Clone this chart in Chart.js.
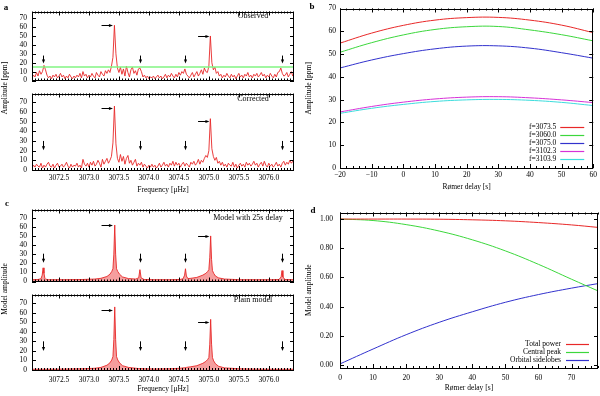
<!DOCTYPE html>
<html>
<head>
<meta charset="utf-8">
<script src="https://cdn.jsdelivr.net/npm/chart.js@4.4.1/dist/chart.umd.min.js"></script>
<style>
  body { margin: 0; background: #fff; }
  #fig { position: relative; width: 600px; height: 396px; overflow: hidden; }
  #fig canvas { position: absolute; }
  .t { position: absolute; font-family: 'Liberation Serif', 'Times New Roman', serif; color: #000;
       white-space: nowrap; transform: translate(-50%, -50%); font-size: 8px; line-height: 1; }
  .rot { transform: translate(-50%, -50%) rotate(-90deg); font-size: 7.5px; }
  .letter { font-weight: bold; font-size: 9px; }
</style>
</head>
<body>
<div id="fig">
  <canvas id="aTop"></canvas>
  <canvas id="aBot"></canvas>
  <canvas id="panelB"></canvas>
  <canvas id="cTop"></canvas>
  <canvas id="cBot"></canvas>
  <canvas id="panelD"></canvas>

  <div class="t letter" style="left:6px;top:7px">a</div>
  <div class="t letter" style="left:312px;top:6px">b</div>
  <div class="t letter" style="left:7px;top:203px">c</div>
  <div class="t letter" style="left:313px;top:210px">d</div>

  <div class="t rot" style="left:5px;top:88px">Amplitude [ppm]</div>
  <div class="t rot" style="left:5px;top:289px">Model amplitude</div>

  <div class="t" style="left:253px;top:16px">Observed</div>
  <div class="t" style="left:253px;top:99px">Corrected</div>
  <div class="t" style="left:248px;top:218px">Model with 25s delay</div>
  <div class="t" style="left:253px;top:300px">Plain model</div>
</div>

<script>
/* ---------- data ---------- */

// panel a: amplitude spectra on a regular frequency grid
const specStart = 3072.05;
const specStep = 0.025;
const observedAmp = [
  3, 6, 4, 9, 5, 11, 7, 10, 17, 12,
  6, 3, 5, 2, 6, 4, 7, 3, 5, 8,
  4, 6, 2, 5, 3, 7, 4, 2, 5, 3,
  6, 4, 8, 3, 10, 5, 7, 3, 6, 4,
  8, 5, 3, 9, 6, 4, 10, 7, 5, 11,
  8, 12, 9, 16, 26, 62, 30, 14, 9, 15,
  7, 13, 5, 16, 9, 4, 12, 15, 8, 11,
  6, 13, 14, 10, 4, 6, 3, 5, 2, 4,
  3, 5, 2, 4, 6, 3, 5, 2, 4, 7,
  3, 6, 4, 8, 5, 3, 7, 4, 9, 6,
  10, 8, 13, 7, 5, 3, 6, 9, 4, 7,
  10, 5, 8, 12, 7, 14, 10, 9, 16, 50,
  20, 12, 15, 8, 10, 5, 7, 3, 6, 4,
  8, 5, 3, 7, 4, 6, 2, 5, 8, 4,
  6, 3, 7, 5, 9, 4, 6, 3, 7, 5,
  8, 4, 6, 9, 5, 7, 3, 6, 4, 8,
  5, 3, 7, 4, 9, 10, 14, 8, 5, 6,
  9, 4, 7, 10, 5, 8
];
const correctedAmp = [
  2, 5, 3, 6, 4, 3, 7, 2, 5, 3,
  6, 8, 4, 3, 6, 2, 5, 7, 3, 4,
  6, 3, 5, 8, 4, 2, 6, 3, 5, 4,
  7, 3, 5, 2, 11, 6, 4, 7, 3, 8,
  5, 9, 4, 6, 10, 7, 3, 11, 6, 9,
  12, 7, 10, 14, 28, 66, 27, 12, 8, 16,
  9, 14, 6, 12, 15, 7, 10, 5, 8, 11,
  4, 7, 5, 8, 3, 6, 4, 2, 5, 3,
  6, 3, 5, 2, 4, 7, 3, 5, 8, 4,
  6, 3, 7, 5, 9, 4, 8, 5, 7, 3,
  6, 8, 4, 7, 5, 3, 8, 6, 9, 5,
  7, 11, 6, 10, 8, 12, 15, 13, 20, 53,
  22, 14, 10, 13, 7, 9, 5, 8, 4, 6,
  3, 7, 5, 4, 8, 3, 6, 2, 5, 7,
  4, 6, 3, 8, 5, 7, 4, 6, 9, 5,
  7, 3, 6, 8, 4, 9, 5, 3, 7, 4,
  6, 3, 5, 8, 4, 6, 3, 7, 9, 5,
  8, 6, 10, 7, 9, 6
];
const thresholdLevel = 15.2;
const sidelobeFreq = [3072.24, 3073.85, 3074.61, 3076.22];

// panel b: amplitude against Rømer delay
const delayB = [-20, -10, 0, 10, 20, 30, 40, 50, 60];
const modeLabels = ["f=3073.5", "f=3060.0", "f=3075.0", "f=3102.3", "f=3103.9"];
const amp3073_5 = [54.8, 59.2, 62.6, 64.9, 66.0, 66.1, 64.9, 62.7, 59.4];
const amp3060_0 = [50.8, 55.0, 58.4, 60.8, 62.0, 62.1, 60.6, 58.5, 55.8];
const amp3075_0 = [43.9, 47.4, 50.2, 52.3, 53.5, 53.6, 52.6, 50.6, 48.2];
const amp3102_3 = [24.6, 27.0, 28.9, 30.3, 31.1, 31.3, 30.8, 29.9, 28.7];
const amp3103_9 = [24.0, 26.2, 27.9, 29.2, 29.9, 30.1, 29.7, 28.8, 27.4];

// panel c: model spectra
const modelFreq = [
  3072.05, 3072.15, 3072.20, 3072.22, 3072.235, 3072.25, 3072.265, 3072.28, 3072.33, 3072.6,
  3072.9, 3073.1, 3073.2, 3073.3, 3073.35, 3073.38, 3073.40, 3073.415, 3073.43, 3073.445,
  3073.46, 3073.48, 3073.51, 3073.56, 3073.66, 3073.78, 3073.83, 3073.85, 3073.87, 3073.92,
  3074.1, 3074.35, 3074.52, 3074.57, 3074.595, 3074.61, 3074.625, 3074.65, 3074.7, 3074.8,
  3074.9, 3074.95, 3074.98, 3075.00, 3075.015, 3075.03, 3075.045, 3075.06, 3075.08, 3075.11,
  3075.16, 3075.26, 3075.5, 3075.8, 3076.05, 3076.17, 3076.205, 3076.22, 3076.235, 3076.27,
  3076.42
];
const modelDelayAmp = [
  2, 2.2, 3, 7, 15, 9, 3.5, 2.5, 2, 2,
  2.2, 2.7, 3.5, 5.5, 8, 11, 14, 30, 62, 30,
  14, 11, 8, 5, 3.2, 2.7, 4, 13, 4, 2.2,
  2, 2, 2.2, 3, 7, 14, 6, 3.2, 3.5, 4.5,
  7, 9, 11, 13, 26, 50, 24, 12, 9, 6,
  4, 2.7, 2, 2, 2, 2.2, 5, 12, 5, 2.2,
  2
];
const modelPlainAmp = [
  0.8, 0.8, 0.8, 0.8, 0.8, 0.8, 0.8, 0.8, 0.8, 1,
  1.3, 1.8, 2.7, 5, 7.5, 10.5, 14, 32, 66, 32,
  14, 10.5, 7.5, 4.5, 2.7, 1.8, 1.5, 1.5, 1.5, 1.3,
  1.1, 1.3, 1.8, 2.2, 2.4, 2.6, 2.7, 3, 3.4, 4.5,
  7, 9, 11, 13, 27, 53, 27, 13, 9.5, 6.5,
  4, 2.2, 1.3, 0.9, 0.8, 0.8, 0.8, 0.8, 0.8, 0.8,
  0.8
];

// panel d: model amplitudes against Rømer delay
const delayD = [0, 10, 20, 30, 40, 50, 60, 70, 78];
const totalPower = [1.000, 1.000, 1.000, 0.999, 0.995, 0.988, 0.976, 0.960, 0.943];
const centralPeak = [1.000, 0.990, 0.962, 0.918, 0.858, 0.782, 0.690, 0.588, 0.508];
const orbitalSidelobes = [0.008, 0.110, 0.208, 0.293, 0.365, 0.430, 0.483, 0.527, 0.558];

/* ---------- styling ---------- */
const FONT = "'Liberation Serif', 'Times New Roman', serif";
const tickFont = { family: FONT, size: 7.5 };
const RED = "rgb(232,40,40)";
const GREEN = "rgb(60,215,60)";
const BLUE = "rgb(50,50,205)";
const MAGENTA = "rgb(215,50,215)";
const CYAN = "rgb(60,220,220)";

/* Frame with inward major/minor ticks on all four sides */
const frameTicks = {
  id: "frameTicks",
  afterDatasetsDraw(chart, args, opts) {
    const { ctx, chartArea: a } = chart;
    const marks = (scale, step, len, horizontal) => {
      if (!step) return;
      const first = Math.ceil(scale.min / step - 1e-6);
      const last = Math.floor(scale.max / step + 1e-6);
      for (let k = first; k <= last; k++) {
        const p = Math.round(scale.getPixelForValue(k * step)) + 0.5;
        if (horizontal) {
          ctx.moveTo(p, a.bottom); ctx.lineTo(p, a.bottom - len);
          ctx.moveTo(p, a.top); ctx.lineTo(p, a.top + len);
        } else {
          ctx.moveTo(a.left, p); ctx.lineTo(a.left + len, p);
          ctx.moveTo(a.right, p); ctx.lineTo(a.right - len, p);
        }
      }
    };
    ctx.save();
    ctx.strokeStyle = "#000";
    ctx.lineWidth = 1;
    ctx.beginPath();
    marks(chart.scales.x, opts.xMajor, 4, true);
    marks(chart.scales.x, opts.xMinor, 2, true);
    marks(chart.scales.y, opts.yMajor, 4, false);
    marks(chart.scales.y, opts.yMinor, 2, false);
    ctx.stroke();
    ctx.strokeRect(Math.round(a.left) + 0.5, Math.round(a.top) + 0.5,
      Math.round(a.right - a.left) - 1, Math.round(a.bottom - a.top) - 1);
    ctx.restore();
  }
};

/* Black arrows marking the peaks (positions in data units) */
const arrowMarks = {
  id: "arrowMarks",
  afterDatasetsDraw(chart, args, opts) {
    if (!opts.down && !opts.right) return;
    const { ctx } = chart;
    const xs = chart.scales.x, ys = chart.scales.y;
    ctx.save();
    ctx.strokeStyle = "#000";
    ctx.fillStyle = "#000";
    ctx.lineWidth = 1;
    const head = (x, y, dx, dy) => {
      ctx.beginPath();
      ctx.moveTo(x, y);
      ctx.lineTo(x - dx * 4 - dy * 1.6, y - dy * 4 - dx * 1.6);
      ctx.lineTo(x - dx * 4 + dy * 1.6, y - dy * 4 + dx * 1.6);
      ctx.closePath();
      ctx.fill();
    };
    if (opts.down) {
      opts.down.xs.forEach(f => {
        const px = Math.round(xs.getPixelForValue(f)) + 0.5;
        const y0 = ys.getPixelForValue(opts.down.from), y1 = ys.getPixelForValue(opts.down.to);
        ctx.beginPath(); ctx.moveTo(px, y0); ctx.lineTo(px, y1 - 3); ctx.stroke();
        head(px, y1, 0, 1);
      });
    }
    (opts.right || []).forEach(r => {
      const py = Math.round(ys.getPixelForValue(r.y)) + 0.5;
      const x0 = xs.getPixelForValue(r.x0), x1 = xs.getPixelForValue(r.x1);
      ctx.beginPath(); ctx.moveTo(x0, py); ctx.lineTo(x1 - 3, py); ctx.stroke();
      head(x1, py, 1, 0);
    });
    ctx.restore();
  }
};

/* Legend in lower right corner: text, then line sample */
const cornerLegend = {
  id: "cornerLegend",
  afterDatasetsDraw(chart, args, opts) {
    if (!opts.show) return;
    const { ctx, chartArea: a } = chart;
    ctx.save();
    ctx.font = "7.5px " + FONT;
    ctx.textAlign = "right";
    ctx.textBaseline = "middle";
    chart.data.datasets.forEach((ds, i) => {
      const y = Math.round(a.bottom - opts.firstFromBottom + i * opts.step) + 0.5;
      ctx.fillStyle = "#000";
      ctx.fillText(ds.label, a.right - opts.textGap, y);
      ctx.strokeStyle = ds.borderColor;
      ctx.lineWidth = 1.2;
      ctx.beginPath();
      ctx.moveTo(a.right - opts.lineStart, y);
      ctx.lineTo(a.right - opts.lineEnd, y);
      ctx.stroke();
    });
    ctx.restore();
  }
};

function placeCanvas(id, left, top, width, height) {
  const c = document.getElementById(id);
  c.width = width; c.height = height;
  c.style.left = left + "px"; c.style.top = top + "px";
  c.style.width = width + "px"; c.style.height = height + "px";
  return c;
}

function makeChart(id, box, o) {
  const canvas = placeCanvas(id, box.left, box.top, box.width, box.height);
  return new Chart(canvas, {
    type: "line",
    data: { datasets: o.datasets },
    options: {
      responsive: false,
      animation: false,
      events: [],
      layout: { autoPadding: false, padding: o.padding },
      elements: { point: { radius: 0 } },
      plugins: {
        legend: { display: false },
        tooltip: { enabled: false },
        frameTicks: o.frame,
        arrowMarks: o.arrows || {},
        cornerLegend: o.legend || { show: false }
      },
      scales: {
        x: {
          type: "linear",
          min: o.xMin, max: o.xMax,
          display: o.showX,
          afterFit: s => { s.height = o.xHeight; },
          grid: { display: false, drawTicks: false },
          border: { display: false },
          ticks: {
            stepSize: o.xStep, includeBounds: false, autoSkip: false, maxRotation: 0,
            padding: o.xPad, font: tickFont, color: "#000", callback: o.xFmt
          },
          title: {
            display: !!o.xTitle, text: o.xTitle, color: "#000",
            font: tickFont, padding: { top: 0, bottom: o.xTitlePad || 0 }
          }
        },
        y: {
          type: "linear",
          min: o.yMin, max: o.yMax,
          afterFit: s => { s.width = o.yWidth; },
          grid: { display: false, drawTicks: false },
          border: { display: false },
          ticks: {
            stepSize: o.yStep, includeBounds: false, autoSkip: false,
            padding: o.yPad, font: tickFont, color: "#000", callback: o.yFmt
          },
          title: {
            display: !!o.yTitle, text: o.yTitle, color: "#000",
            font: tickFont, padding: { top: o.yTitlePad || 0, bottom: 0 }
          }
        }
      }
    },
    plugins: [frameTicks, arrowMarks, cornerLegend]
  });
}

/* ---------- panel a ---------- */
const specFreqMin = 3072.05, specFreqMax = 3076.42;
const toSpecPoints = arr => arr.map((v, i) => ({ x: specStart + i * specStep, y: v }));
const freqFmt = v => Number(v).toFixed(1);
const specFrame = { xMajor: 0.5, xMinor: 0.05, yMajor: 10 };

makeChart("aTop", { left: 0, top: 2, width: 295, height: 88 }, {
  padding: { top: 1, right: 1, bottom: 5, left: 0 },
  xMin: specFreqMin, xMax: specFreqMax, xStep: 0.5, showX: false, xHeight: 0,
  yMin: 0, yMax: 77.5, yStep: 10, yWidth: 32, yPad: 5,
  frame: specFrame,
  arrows: {
    down: { xs: sidelobeFreq, from: 28, to: 19 },
    right: [{ x0: 3073.21, x1: 3073.40, y: 62 }, { x0: 3074.82, x1: 3075.01, y: 50 }]
  },
  datasets: [
    { data: [{ x: specFreqMin, y: thresholdLevel }, { x: specFreqMax, y: thresholdLevel }],
      borderColor: "rgb(130,245,130)", borderWidth: 1.5 },
    { data: toSpecPoints(observedAmp), borderColor: RED, borderWidth: 0.9 }
  ]
});

makeChart("aBot", { left: 0, top: 84, width: 295, height: 112 }, {
  padding: { top: 1, right: 1, bottom: 0, left: 0 },
  xMin: specFreqMin, xMax: specFreqMax, xStep: 0.5, showX: true, xHeight: 26, xPad: 4,
  xFmt: freqFmt, xTitle: "Frequency [\u03bcHz]", xTitlePad: 1.5,
  yMin: 0, yMax: 79, yStep: 10, yWidth: 32, yPad: 5,
  frame: specFrame,
  arrows: {
    down: { xs: sidelobeFreq, from: 30, to: 20.5 },
    right: [{ x0: 3073.21, x1: 3073.40, y: 64 }, { x0: 3074.82, x1: 3075.01, y: 51 }]
  },
  datasets: [
    { data: toSpecPoints(correctedAmp), borderColor: RED, borderWidth: 0.9 }
  ]
});

/* ---------- panel b ---------- */
const toPoints = (xs, ys) => xs.map((x, i) => ({ x, y: ys[i] }));
const curve = (label, ys, color) => ({
  label, data: toPoints(delayB, ys), borderColor: color, borderWidth: 1, tension: 0.4
});

makeChart("panelB", { left: 300, top: 0, width: 300, height: 196 }, {
  padding: { top: 5, right: 6, bottom: 0, left: 0 },
  xMin: -20, xMax: 60, xStep: 10, showX: true, xHeight: 28, xPad: 3,
  xFmt: v => (v < 0 ? "\u2212" + (-v) : String(v)),
  xTitle: "R\u00f8mer delay [s]", xTitlePad: 4.5,
  yMin: 0, yMax: 70, yStep: 10, yWidth: 40, yPad: 4,
  yTitle: "Amplitude [ppm]", yTitlePad: 4.5,
  frame: { xMajor: 10, xMinor: 2, yMajor: 10 },
  legend: { show: true, firstFromBottom: 40.7, step: 8, textGap: 37, lineStart: 33, lineEnd: 9 },
  datasets: [
    curve(modeLabels[0], amp3073_5, RED),
    curve(modeLabels[1], amp3060_0, GREEN),
    curve(modeLabels[2], amp3075_0, BLUE),
    curve(modeLabels[3], amp3102_3, MAGENTA),
    curve(modeLabels[4], amp3103_9, CYAN)
  ]
});

/* ---------- panel c ---------- */
const modelSeries = arr => ({
  data: toPoints(modelFreq, arr), borderColor: RED, borderWidth: 0.9,
  fill: "origin", backgroundColor: "rgba(232,40,40,0.45)"
});

makeChart("cTop", { left: 0, top: 200, width: 295, height: 91 }, {
  padding: { top: 1, right: 1, bottom: 5, left: 0 },
  xMin: specFreqMin, xMax: specFreqMax, xStep: 0.5, showX: false, xHeight: 0,
  yMin: 0, yMax: 79, yStep: 10, yWidth: 32, yPad: 5,
  frame: specFrame,
  arrows: {
    down: { xs: sidelobeFreq, from: 30.5, to: 20.5 },
    right: [{ x0: 3073.21, x1: 3073.40, y: 62 }, { x0: 3074.82, x1: 3075.01, y: 50 }]
  },
  datasets: [modelSeries(modelDelayAmp)]
});

makeChart("cBot", { left: 0, top: 285, width: 295, height: 111 }, {
  padding: { top: 1, right: 1, bottom: 0, left: 0 },
  xMin: specFreqMin, xMax: specFreqMax, xStep: 0.5, showX: true, xHeight: 26, xPad: 6,
  xFmt: freqFmt, xTitle: "Frequency [\u03bcHz]", xTitlePad: 2.5,
  yMin: 0, yMax: 79, yStep: 10, yWidth: 32, yPad: 5,
  frame: specFrame,
  arrows: {
    down: { xs: sidelobeFreq, from: 30, to: 20 },
    right: [{ x0: 3073.21, x1: 3073.40, y: 62.5 }, { x0: 3074.82, x1: 3075.01, y: 50 }]
  },
  datasets: [modelSeries(modelPlainAmp)]
});

/* ---------- panel d ---------- */
const curveD = (label, ys, color) => ({
  label, data: toPoints(delayD, ys), borderColor: color, borderWidth: 1, tension: 0.4
});

makeChart("panelD", { left: 300, top: 201, width: 299, height: 195 }, {
  padding: { top: 1, right: 1, bottom: 0, left: 0 },
  xMin: 0, xMax: 78, xStep: 10, showX: true, xHeight: 28, xPad: 6,
  xTitle: "R\u00f8mer delay [s]", xTitlePad: 3,
  yMin: -0.02, yMax: 1.045, yStep: 0.2, yWidth: 40, yPad: 7,
  yFmt: v => Number(v).toFixed(2),
  yTitle: "Model amplitude", yTitlePad: 4.5,
  frame: { xMajor: 10, xMinor: 2, yMajor: 0.2 },
  legend: { show: true, firstFromBottom: 24, step: 8, textGap: 37, lineStart: 32, lineEnd: 9 },
  datasets: [
    curveD("Total power", totalPower, RED),
    curveD("Central peak", centralPeak, GREEN),
    curveD("Orbital sidelobes", orbitalSidelobes, BLUE)
  ]
});
</script>
</body>
</html>
